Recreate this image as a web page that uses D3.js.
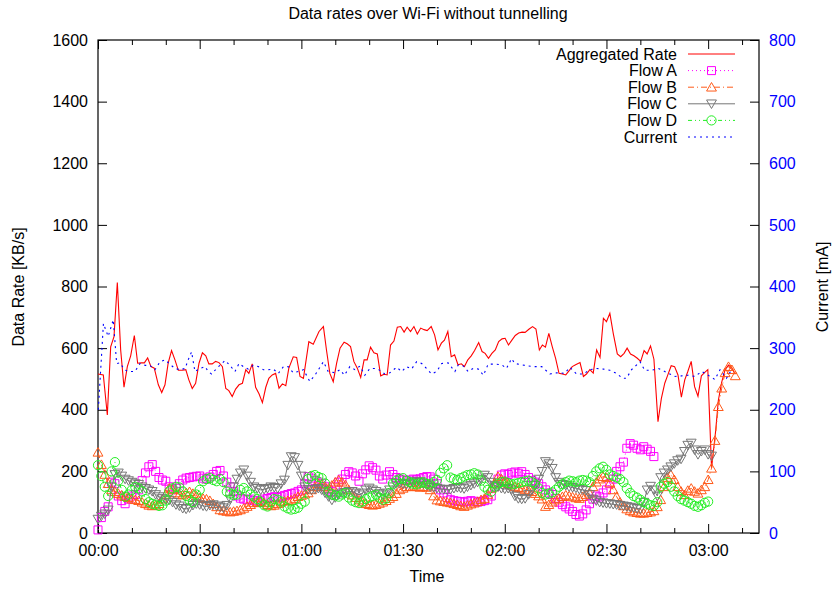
<!DOCTYPE html>
<html lang="en">
<head>
<meta charset="UTF-8">
<title>Data rates over Wi-Fi without tunnelling</title>
<script src="https://d3js.org/d3.v7.min.js"></script>
<style>
  body { margin: 0; background: #fff; }
  svg { font-family: "Liberation Sans", Arial, sans-serif; }
  .axis path { display: none; }
  .axis line { stroke: #000; }
  .axis text { font-size: 16px; fill: #000; }
  .y2 text { fill: #0000ff; }
</style>
</head>
<body>
<div id="chart"></div>
<script>

// aggregated rate, sampled roughly once a minute (minutes, KB/s)
var rateMin = [0,1.57,2.75,3.74,4.72,5.7,6.69,7.67,8.65,9.64,10.72,11.7,12.7,13.67,14.65,15.63,16.6,17.8,18.8,19.76,20.7,21.7,22.7,23.7,24.9,25.9,26.8,27.8,28.8,29.8,30.8,31.8,32.7,33.7,34.7,35.7,36.7,37.7,38.6,39.6,40.6,41.6,42.6,43.6,44.5,45.5,46.5,47.5,48.5,49.5,50.4,51.4,52.4,53.4,54.4,55.4,56.3,57.6,58.6,59.6,60.6,62.2,63.5,65.2,66.5,67.4,68.4,69.4,70.4,71.4,72.6,73.5,74.5,75.5,76.5,77.5,78.5,79.4,80.4,81.4,82.4,83.4,84.4,85.3,86.3,87.3,88.3,89.3,90.3,91.2,92.2,93.2,94.2,95.2,96.2,97.1,98.3,99.3,100.3,101.3,102.2,103.2,104.2,105.2,106.2,107.2,108.1,109.1,110.1,111.1,112.3,113.3,114.2,115.2,116.2,117.2,118.2,119.2,120.1,121.1,122.1,123.1,124.1,125.1,126,127.2,128.2,129.2,130.2,131.1,132,133,134,135,136,137,138,139,139.9,140.9,142.2,143.2,144.1,145.1,146.1,147.1,148.1,149.1,150,151,152,153.2,154.2,155.2,156.1,157.1,158.1,159.1,160.1,161.1,162,163,164,165.2,166.2,167.2,168.1,169.1,170.1,171.1,172.1,173.1,174,175,176,177,178,179,179.9,181,182.2,183,184,185,186,187,188];
var rateVal = [516,513,383,604,637,813,594,473,540,575,641,551,552,552,568,540,535,481,456,481,551,592,562,528,528,530,497,469,486,551,585,575,549,549,557,553,540,469,462,443,467,481,486,530,518,549,473,452,423,473,502,513,518,470,484,478,535,572,570,508,502,621,613,654,670,594,518,491,551,600,619,614,605,556,535,505,562,562,603,585,581,510,515,513,610,623,668,670,652,668,654,670,646,665,660,657,670,643,594,616,626,654,572,578,546,549,540,562,575,592,618,589,583,567,583,594,621,630,632,610,626,641,649,652,651,662,670,662,594,610,603,648,605,567,518,516,513,527,540,546,553,508,516,530,519,594,570,697,686,713,648,581,572,583,600,581,575,567,557,592,581,607,564,361,437,486,513,543,540,513,441,497,524,557,475,444,510,521,530,210,330,430,490,530,545,535,515];

// flows, one value per minute from 00:00 (KB/s)
var flowA = [10,50,70,85,165,160,120,105,95,110,120,125,140,170,195,215,222,200,180,172,168,150,140,145,160,172,178,180,182,184,185,178,175,182,190,200,203,185,165,150,135,120,113,110,108,110,105,100,105,110,112,115,118,115,118,122,125,128,130,135,140,160,183,178,170,165,160,150,140,135,150,165,175,190,199,195,185,168,192,205,218,212,204,185,175,188,199,190,180,175,172,170,172,175,173,176,180,183,182,175,160,140,130,115,108,105,103,102,100,103,105,103,100,102,105,108,120,150,175,188,192,190,195,198,194,199,190,180,170,165,160,150,140,130,125,112,100,92,85,78,70,60,55,62,75,95,110,120,117,130,140,160,175,200,215,230,275,290,285,275,270,280,272,265,248];
var flowB = [262,222,190,160,140,134,128,123,118,115,110,108,105,100,95,90,88,90,95,110,125,145,140,130,125,123,130,134,128,120,115,112,110,105,95,85,75,72,70,68,70,72,75,80,86,92,98,100,102,98,92,88,90,95,100,103,105,107,112,118,122,126,130,140,150,160,158,150,145,155,165,172,165,156,140,123,115,107,100,95,92,90,92,96,100,105,112,118,128,140,145,150,150,152,150,148,150,148,140,120,107,104,102,100,98,95,92,88,86,90,94,97,102,108,112,125,145,161,183,175,167,160,155,150,147,145,140,137,134,128,120,110,86,92,100,107,112,118,123,120,117,114,112,118,124,129,150,165,175,183,180,162,140,118,100,88,78,72,68,66,64,64,66,68,72,85,108,150,180,189,173,150,135,124,138,145,135,129,140,150,173,210,300,410,470,520,540,530,510];
var flowC = [45,55,62,75,150,190,195,185,175,170,165,160,158,150,145,140,135,125,118,112,108,107,100,92,88,80,78,82,90,95,92,88,86,90,92,88,85,82,90,110,150,175,195,205,185,165,150,145,140,142,145,150,148,145,160,172,220,248,245,220,185,150,142,140,142,145,140,130,118,107,115,124,130,132,135,135,130,124,130,140,146,140,135,128,124,130,140,150,160,162,160,158,160,165,168,165,160,155,150,148,145,143,142,140,142,145,148,146,144,150,155,160,165,175,188,180,165,155,150,145,143,145,140,120,112,110,112,125,140,155,175,200,232,225,210,180,165,158,155,150,148,146,142,140,138,125,110,105,100,98,96,95,93,92,90,88,86,84,82,80,78,100,140,152,140,120,180,195,205,215,225,235,240,265,285,292,270,255,265,270,255,250];
var flowD = [220,185,150,120,200,230,170,140,118,125,140,150,145,135,110,100,95,92,88,90,105,135,145,150,148,135,120,107,100,125,140,168,175,178,172,168,175,165,134,128,123,125,140,146,135,125,118,110,100,90,86,100,110,108,102,86,80,76,78,82,95,102,175,185,188,182,178,161,134,125,122,118,125,130,115,105,100,97,102,110,115,120,124,115,108,112,130,160,170,175,178,170,165,160,158,162,165,160,158,165,172,195,210,220,180,175,172,178,183,188,190,194,190,170,150,140,134,150,160,165,167,162,158,160,162,165,168,170,165,158,145,130,125,128,132,140,150,158,165,170,168,165,170,172,170,165,185,200,210,215,205,190,185,180,175,165,145,130,120,115,108,100,95,90,88,100,150,160,165,150,135,120,110,105,100,95,88,85,90,98,102];

// current draw (minutes, mA)
var currentMin = [0.1,1.6,3.0,4.5,5.5,6.5,7.8,8.9,10.9,12.4,13.9,15.3,16.8,18.3,19.8,21.2,22.7,24.2,25.7,26.6,27.6,28.6,30.1,31.6,32.5,33.5,35,36.5,37.5,38.9,40.4,41.6,42.9,44.3,45.8,47.3,48.8,50.2,51.7,53.2,54.7,56.1,57.6,59.1,60.6,62.5,64,66.5,67.9,69.9,71.4,72.7,74.3,75.8,77.3,78.7,80.2,82.2,83.7,84.6,86.1,88.1,89.6,91,92.5,94,95.5,96.9,98.4,99.9,101.4,103.3,105.3,106.3,107.8,109.2,110.7,112.2,113.7,115.1,117.1,119.1,120.5,122,123,125,126.9,128.9,130.9,133.3,135.3,137.7,139.2,141.2,143.2,145.1,147.1,149.1,151,153,154.7,155.9,157.4,159.9,161.3,163.3,165.3,167.2,170.2,172.2,174.1,176.1,178.1,180,182,183.5,185.4,186.9];
var currentVal = [200,340,319,346,275,276,265,262,262,275,272,272,265,278,281,274,267,265,267,281,294,262,267,270,262,258,267,275,280,272,262,275,270,266,272,270,265,265,266,259,270,270,260,262,265,246,256,278,262,260,265,256,270,265,271,256,267,267,262,258,260,269,262,270,266,278,275,267,258,262,275,276,262,273,271,262,267,266,256,274,274,273,267,283,275,273,271,270,270,258,260,259,269,258,258,265,267,266,264,259,251,251,265,278,264,264,267,262,254,255,256,254,262,256,249,265,251,265];

var rateTicks = [0,200,400,600,800,1000,1200,1400,1600];
var currentTicks = [0,100,200,300,400,500,600,700,800];
var timeTicks = [0,30,60,90,120,150,180];
var timeMinor = [10,20,40,50,70,80,100,110,130,140,160,170,190];

var margin = {top: 40, right: 78, bottom: 57, left: 98},
    width = 837 - margin.left - margin.right,
    height = 590 - margin.top - margin.bottom;

var svg = d3.select("#chart").append("svg")
    .attr("width", 837)
    .attr("height", 590);

var g = svg.append("g")
    .attr("transform", "translate(" + margin.left + "," + margin.top + ")");

var x = d3.scaleLinear().domain([0, 195]).range([0, width]);
var y = d3.scaleLinear().domain([0, 1600]).range([height, 0]);
var y2 = d3.scaleLinear().domain([0, 800]).range([height, 0]);

var pad2 = d3.format("02");
function hhmm(m) { return pad2(Math.floor(m / 60)) + ":" + pad2(m % 60); }

// axes, ticks pointing inwards like gnuplot
g.append("g").attr("class", "axis")
    .attr("transform", "translate(0," + height + ")")
    .call(d3.axisBottom(x).tickValues(timeTicks).tickFormat(hhmm).tickSizeInner(-9).tickSizeOuter(0).tickPadding(12));
g.append("g").attr("class", "axis")
    .attr("transform", "translate(0," + height + ")")
    .call(d3.axisBottom(x).tickValues(timeMinor).tickFormat("").tickSizeInner(-5).tickSizeOuter(0));
g.append("g").attr("class", "axis")
    .call(d3.axisTop(x).tickValues(timeTicks).tickFormat("").tickSizeInner(-9).tickSizeOuter(0));
g.append("g").attr("class", "axis")
    .call(d3.axisTop(x).tickValues(timeMinor).tickFormat("").tickSizeInner(-5).tickSizeOuter(0));
g.append("g").attr("class", "axis")
    .call(d3.axisLeft(y).tickValues(rateTicks).tickFormat(d3.format("d")).tickSizeInner(-9).tickSizeOuter(0).tickPadding(10));
g.append("g").attr("class", "axis y2")
    .attr("transform", "translate(" + width + ",0)")
    .call(d3.axisRight(y2).tickValues(currentTicks).tickFormat(d3.format("d")).tickSizeInner(-9).tickSizeOuter(0).tickPadding(10));

g.append("rect")
    .attr("width", width).attr("height", height)
    .attr("fill", "none").attr("stroke", "#000").attr("stroke-width", 1.2);

// titles
svg.append("text").attr("x", 428).attr("y", 19).attr("text-anchor", "middle")
    .style("font-size", "16px").text("Data rates over Wi-Fi without tunnelling");
svg.append("text").attr("x", 427).attr("y", 582).attr("text-anchor", "middle")
    .style("font-size", "16px").text("Time");
svg.append("text").attr("transform", "translate(24,287) rotate(-90)").attr("text-anchor", "middle")
    .style("font-size", "16px").text("Data Rate [KB/s]");
svg.append("text").attr("transform", "translate(828,287) rotate(-90)").attr("text-anchor", "middle")
    .style("font-size", "16px").text("Current [mA]");

var series = [
    {name: "Aggregated Rate", color: "#ff0000", dash: null, marker: null},
    {name: "Flow A", color: "#ff00ff", dash: "1,3", marker: "square", values: flowA},
    {name: "Flow B", color: "#ff5a1a", dash: "6,3,1,3", marker: "triangle", values: flowB},
    {name: "Flow C", color: "#777777", dash: null, marker: "down", values: flowC},
    {name: "Flow D", color: "#22ee22", dash: "4,3,1,3,1,3", marker: "circle", values: flowD},
    {name: "Current", color: "#0000ff", dash: "2,4", marker: null}
];

var tri = d3.symbol().type(d3.symbolTriangle).size(42)();
var sq = d3.symbol().type(d3.symbolSquare).size(64)();

function drawMarker(sel, kind, color) {
    if (kind === "circle") {
        sel.append("circle").attr("r", 4.6);
    } else if (kind === "square") {
        sel.append("path").attr("d", sq);
    } else if (kind === "triangle") {
        sel.append("path").attr("d", tri).attr("transform", "translate(0,1)");
    } else if (kind === "down") {
        sel.append("path").attr("d", tri).attr("transform", "translate(0,-1) rotate(180)");
    }
    sel.selectAll("*").attr("fill", "none").attr("stroke", color).attr("stroke-width", 1);
}

var lineRate = d3.line().x(function(d, i) { return x(rateMin[i]); }).y(function(d) { return y(d); });
var lineFlow = d3.line().x(function(d, i) { return x(i); }).y(function(d) { return y(d); });
var lineCur = d3.line().x(function(d, i) { return x(currentMin[i]); }).y(function(d) { return y2(d); });

// aggregated rate
g.append("path").datum(rateVal)
    .attr("d", lineRate).attr("fill", "none")
    .attr("stroke", series[0].color).attr("stroke-width", 1.1);

// flows
series.slice(1, 5).forEach(function(s) {
    g.append("path").datum(s.values)
        .attr("d", lineFlow).attr("fill", "none")
        .attr("stroke", s.color).attr("stroke-width", 1)
        .attr("stroke-dasharray", s.dash);
    g.append("g").selectAll("g").data(s.values).enter().append("g")
        .attr("transform", function(d, i) { return "translate(" + x(i) + "," + y(d) + ")"; })
        .each(function() { drawMarker(d3.select(this), s.marker, s.color); });
});

// current
g.append("path").datum(currentVal)
    .attr("d", lineCur).attr("fill", "none")
    .attr("stroke", "#0000ff").attr("stroke-width", 1.1)
    .attr("stroke-dasharray", "2,4");

// legend
var legend = svg.append("g").attr("transform", "translate(677,54)");
series.forEach(function(s, i) {
    var row = legend.append("g").attr("transform", "translate(0," + (i * 16.6) + ")");
    row.append("text").attr("x", 0).attr("dy", "0.35em").attr("text-anchor", "end")
        .style("font-size", "16px").text(s.name);
    row.append("line").attr("x1", 11).attr("x2", 58).attr("y1", 0).attr("y2", 0)
        .attr("stroke", s.color).attr("stroke-width", 1)
        .attr("stroke-dasharray", s.dash);
    if (s.marker) {
        var m = row.append("g").attr("transform", "translate(34.5,0)");
        drawMarker(m, s.marker, s.color);
    }
});

</script>
</body>
</html>
